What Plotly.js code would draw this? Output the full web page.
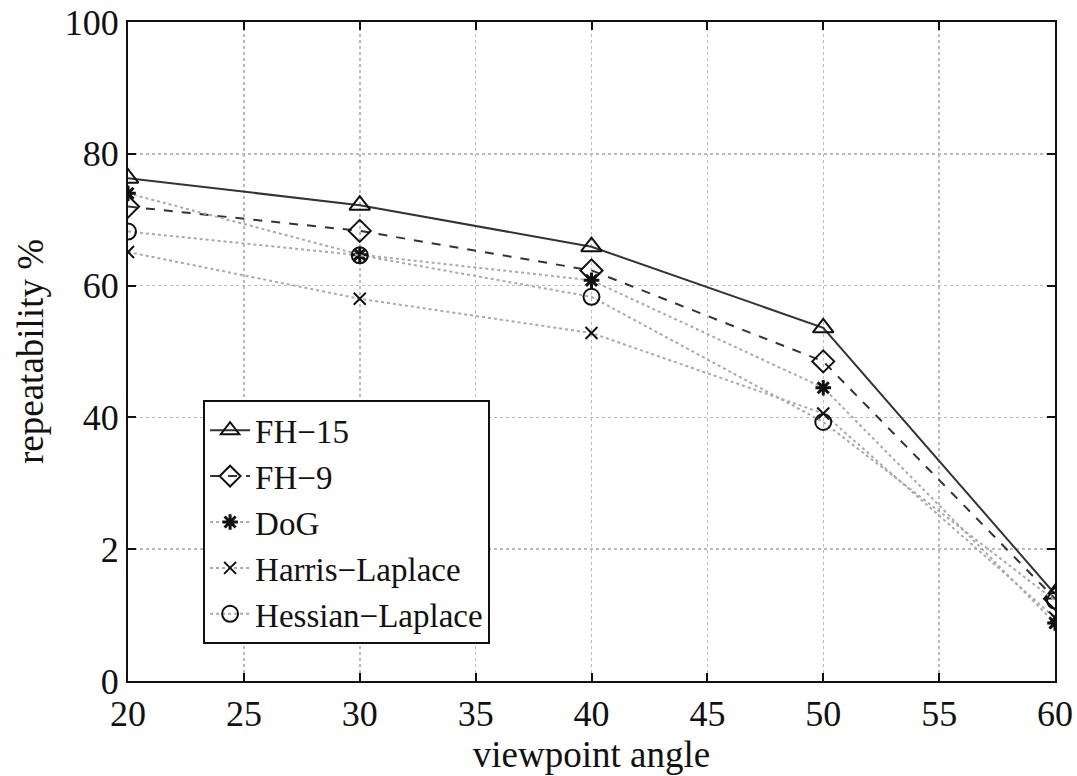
<!DOCTYPE html>
<html>
<head>
<meta charset="utf-8">
<script src="https://cdn.plot.ly/plotly-3.0.1.min.js"></script>
<style>html,body{margin:0;padding:0;background:#fff;}#chart{width:1077px;height:776px;}</style>
</head>
<body>
<div id="chart"></div>
<script>
const angles = [20, 30, 40, 50, 60];
const fh15 = [76.3, 72.2, 65.9, 53.6, 13.2];
const fh9 = [72.0, 68.3, 62.3, 48.5, 12.5];
const dog = [74.0, 64.7, 60.8, 44.5, 8.8];
const harris = [65.1, 58.0, 52.8, 40.6, 9.6];
const hessian = [68.2, 64.6, 58.3, 39.3, 12.2];
const yTickVals = [0, 20, 40, 60, 80, 100];
const yTickText = ['0', '2', '40', '60', '80', '100'];
const xTickVals = [20, 25, 30, 35, 40, 45, 50, 55, 60];

const fontFam = '"Liberation Serif", "Times New Roman", serif';
function tr(name, y, dash, lineColor, symbol, size, lw) {
  return {
    x: angles, y: y, name: name, type: 'scatter', mode: 'lines+markers',
    line: {color: lineColor, width: 2, dash: dash},
    marker: {symbol: symbol, size: size, color: '#111', line: {color: '#111', width: lw}}
  };
}
const data = [
  tr('FH\u221215', fh15, 'solid', '#333', 'triangle-up-open', 18, 2),
  tr('FH\u22129', fh9, 'dash', '#333', 'diamond-open', 17, 2),
  tr('DoG', dog, 'dot', '#aaa', 'asterisk-open', 13, 3),
  tr('Harris\u2212Laplace', harris, 'dot', '#aaa', 'x-thin-open', 12, 2),
  tr('Hessian\u2212Laplace', hessian, 'dot', '#aaa', 'circle-open', 16, 2)
];
const layout = {
  width: 1077, height: 776,
  margin: {l: 128, r: 22, t: 22, b: 95},
  paper_bgcolor: '#fff', plot_bgcolor: '#fff',
  font: {family: fontFam, color: '#111', size: 37},
  showlegend: true,
  legend: {
    x: 0.081, y: 0.426, xanchor: 'left', yanchor: 'top',
    bgcolor: '#fff', bordercolor: '#111', borderwidth: 2,
    font: {family: fontFam, size: 33, color: '#111'},
    tracegroupgap: 0, itemwidth: 40
  },
  xaxis: {
    range: [20, 60], tickvals: xTickVals, ticktext: xTickVals.map(String),
    showgrid: true, gridcolor: '#bbb', griddash: 'dot', gridwidth: 1.5,
    showline: true, linecolor: '#111', linewidth: 2, mirror: 'ticks',
    ticks: 'inside', ticklen: 8, tickcolor: '#111', tickwidth: 2,
    zeroline: false, tickfont: {size: 36},
    title: {text: 'viewpoint angle', font: {size: 37}, standoff: 0}
  },
  yaxis: {
    range: [0, 100], tickvals: yTickVals, ticktext: yTickText,
    showgrid: true, gridcolor: '#bbb', griddash: 'dot', gridwidth: 1.5,
    showline: true, linecolor: '#111', linewidth: 2, mirror: 'ticks',
    ticks: 'inside', ticklen: 8, tickcolor: '#111', tickwidth: 2,
    zeroline: false, tickfont: {size: 36},
    title: {text: 'repeatability %', font: {size: 37}, standoff: 10}
  }
};
Plotly.newPlot('chart', data, layout, {displayModeBar: false, staticPlot: true});
</script>
</body>
</html>
